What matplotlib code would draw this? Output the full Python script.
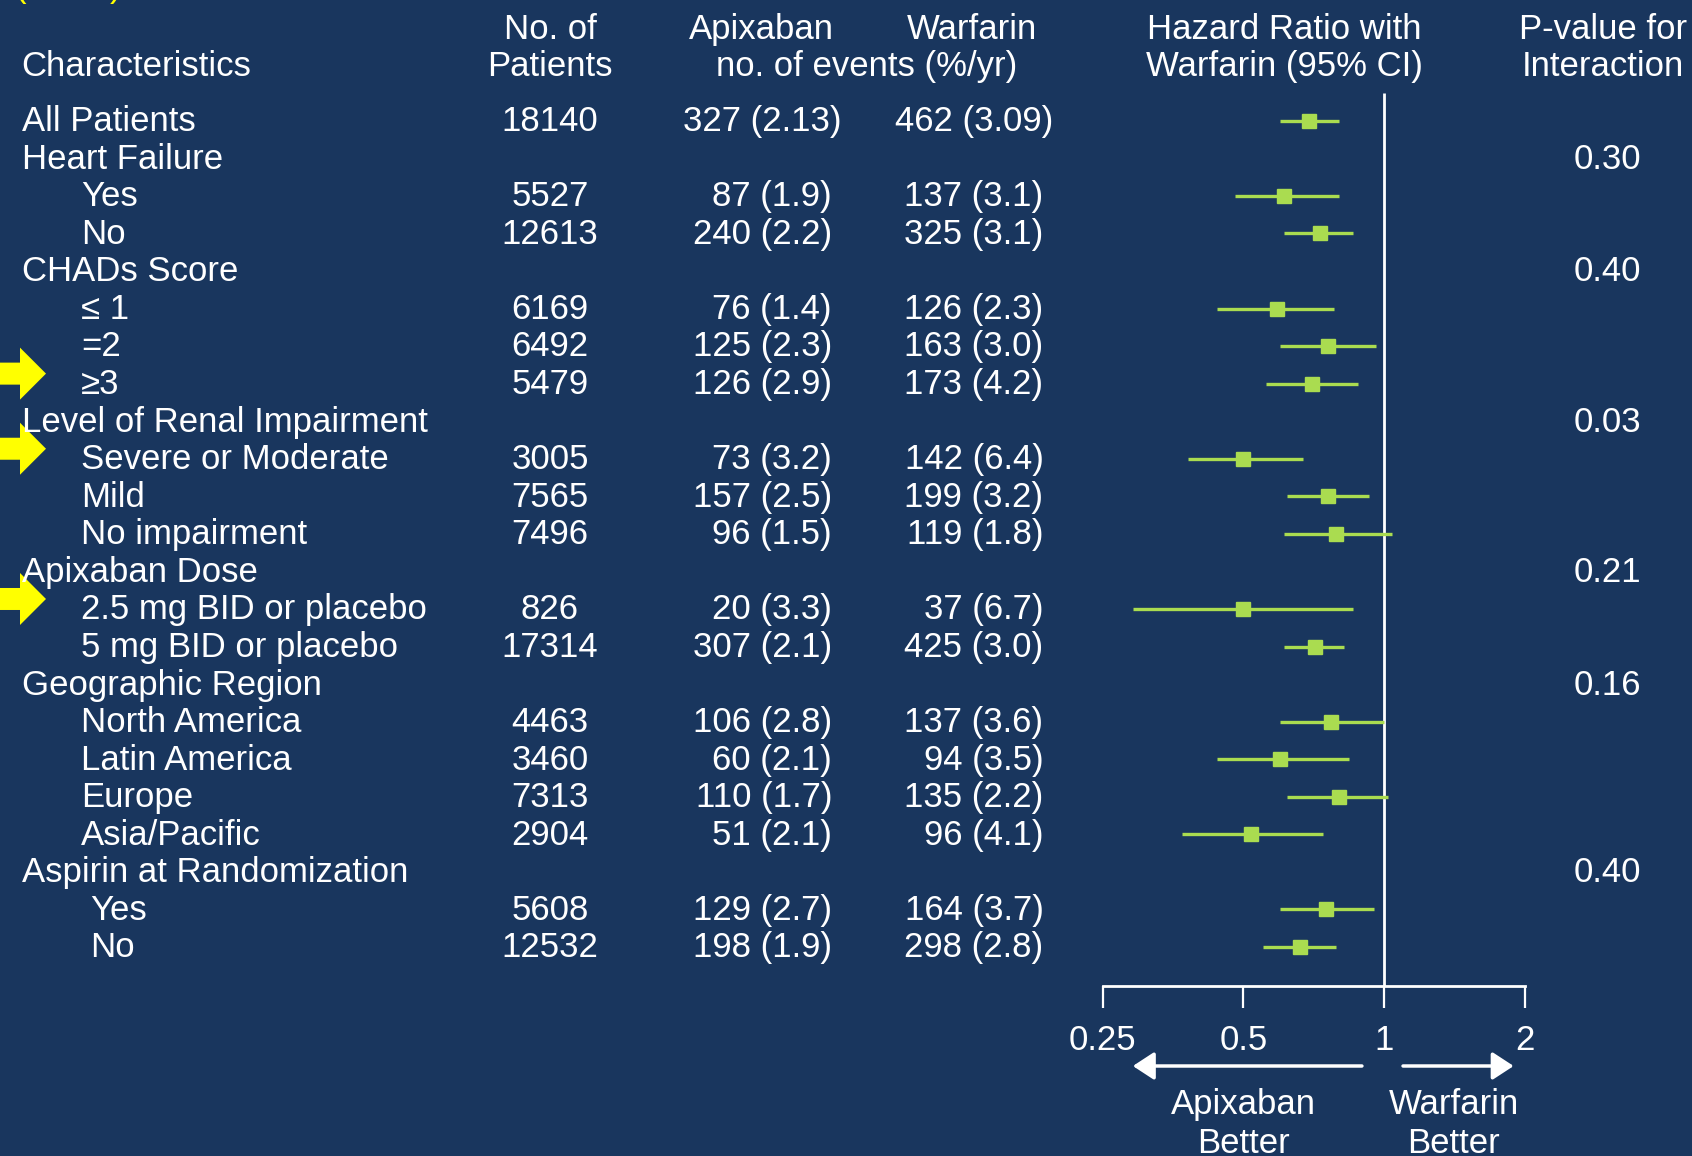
import numpy as np
import matplotlib.pyplot as plt

plt.rcParams['font.family'] = ['Liberation Sans', 'DejaVu Sans']

BG = '#19365e'
VERT = '#aadc50'
JAUNE = '#ffff00'
FS = 25

# ── Données ──────────────────────────────────────────────────────────────────
labels = ['All Patients', 'Heart Failure', 'Yes', 'No', 'CHADs Score',
          '≤ 1', '=2', '≥3', 'Level of Renal Impairment',
          'Severe or Moderate', 'Mild', 'No impairment', 'Apixaban Dose',
          '2.5 mg BID or placebo', '5 mg BID or placebo', 'Geographic Region',
          'North America', 'Latin America', 'Europe', 'Asia/Pacific',
          'Aspirin at Randomization', 'Yes', 'No']
niveau = [0, 0, 1, 1, 0, 1, 1, 1, 0, 1, 1, 1, 0, 1, 1, 0, 1, 1, 1, 1, 0, 2, 2]
patients = ['18140', '', '5527', '12613', '', '6169', '6492', '5479', '',
            '3005', '7565', '7496', '', '826', '17314', '', '4463', '3460',
            '7313', '2904', '', '5608', '12532']
apixaban = ['327 (2.13)', '', '87 (1.9)', '240 (2.2)', '', '76 (1.4)',
            '125 (2.3)', '126 (2.9)', '', '73 (3.2)', '157 (2.5)', '96 (1.5)',
            '', '20 (3.3)', '307 (2.1)', '', '106 (2.8)', '60 (2.1)',
            '110 (1.7)', '51 (2.1)', '', '129 (2.7)', '198 (1.9)']
warfarin = ['462 (3.09)', '', '137 (3.1)', '325 (3.1)', '', '126 (2.3)',
            '163 (3.0)', '173 (4.2)', '', '142 (6.4)', '199 (3.2)', '119 (1.8)',
            '', '37 (6.7)', '425 (3.0)', '', '137 (3.6)', '94 (3.5)',
            '135 (2.2)', '96 (4.1)', '', '164 (3.7)', '298 (2.8)']
p_inter = ['', '0.30', '', '', '0.40', '', '', '', '0.03', '', '', '', '0.21',
           '', '', '0.16', '', '', '', '', '0.40', '', '']

# Hazard ratios (NaN pour les lignes de titre)
hr = [0.69, np.nan, 0.61, 0.73, np.nan, 0.59, 0.76, 0.70, np.nan, 0.50, 0.76,
      0.79, np.nan, 0.50, 0.71, np.nan, 0.77, 0.60, 0.80, 0.52, np.nan, 0.75, 0.66]
ic_bas = [0.60, np.nan, 0.48, 0.61, np.nan, 0.44, 0.60, 0.56, np.nan, 0.38,
          0.62, 0.61, np.nan, 0.29, 0.61, np.nan, 0.60, 0.44, 0.62, 0.37,
          np.nan, 0.60, 0.55]
ic_haut = [0.80, np.nan, 0.80, 0.86, np.nan, 0.78, 0.96, 0.88, np.nan, 0.67,
           0.93, 1.04, np.nan, 0.86, 0.82, np.nan, 1.00, 0.84, 1.02, 0.74,
           np.nan, 0.95, 0.79]
fleches = [7, 9, 13]          # lignes signalées par une flèche jaune
ticks_hr = [0.25, 0.5, 1, 2]
tick_labels = ['0.25', '0.5', '1', '2']

# ── Mise en page (coordonnées en pixels) ─────────────────────────────────────
W, H = 1692, 1156
Y0, DY = 118.7, 37.56
ys = Y0 + DY * np.arange(len(labels))
INDENT = [21.6, 81, 90]
X_PAT, X_APIX, X_WARF, X_P = 550, 832, 1043.5, 1607
CHIFFRE = 0.556 * FS * 100 / 72   # largeur d'un chiffre en pixels

fig = plt.figure(figsize=(W / 100, H / 100), dpi=100, facecolor=BG)
ax = fig.add_axes([0, 0, 1, 1])
ax.set_xlim(0, W)
ax.set_ylim(H, 0)
ax.axis('off')
ax.set_facecolor(BG)

txt = dict(color='white', fontsize=FS, va='baseline')
off = 12.4   # demi-hauteur des majuscules


def texte(x, y, s, ha='left'):
    ax.text(x, y + off, s, ha=ha, **txt)


def decal(s):
    # les taux à deux décimales débordent d'un demi-chiffre à droite
    if '.' not in s:
        return 0
    return (len(s.split('.')[-1].rstrip(')')) - 1) * CHIFFRE / 2


# En-têtes
texte(21.6, 63.7, 'Characteristics')
texte(X_PAT, 27, 'No. of', 'center')
texte(X_PAT, 63.7, 'Patients', 'center')
texte(761, 27, 'Apixaban', 'center')
texte(972, 27, 'Warfarin', 'center')
texte(866.5, 63.7, 'no. of events (%/yr)', 'center')
texte(1284, 27, 'Hazard Ratio with', 'center')
texte(1284, 63.7, 'Warfarin (95% CI)', 'center')
texte(1603, 27, 'P-value for', 'center')
texte(1603, 63.7, 'Interaction', 'center')

# Parenthèses jaunes tronquées en haut
ax.text(15, -2.5, '(', color=JAUNE, fontsize=FS, va='baseline', ha='left')
ax.text(121, -2.5, ')', color=JAUNE, fontsize=FS, va='baseline', ha='right')

# Tableau
for i, y in enumerate(ys):
    texte(INDENT[niveau[i]], y, labels[i])
    texte(X_PAT, y, patients[i], 'center')
    texte(X_APIX + decal(apixaban[i]), y, apixaban[i], 'right')
    texte(X_WARF + decal(warfarin[i]), y, warfarin[i], 'right')
    texte(X_P, y, p_inter[i], 'center')

# Flèches jaunes
for i in fleches:
    yc = ys[i] - 8
    ax.add_patch(plt.Polygon([(0, yc - 11), (20, yc - 11), (20, yc - 26),
                              (46, yc), (20, yc + 26), (20, yc + 11),
                              (0, yc + 11)], closed=True, color=JAUNE, lw=0))

# ── Forest plot ──────────────────────────────────────────────────────────────
x_g, x_d, y_axe = 1102.8, 1524.7, 986.3
axf = fig.add_axes([x_g / W, (H - y_axe) / H, (x_d - x_g) / W, y_axe / H])
axf.set_facecolor('none')
axf.set_xscale('log', base=2)
axf.set_xlim(0.25, 2)
axf.set_ylim(y_axe, 0)

hr_a = np.array(hr)
ok = ~np.isnan(hr_a)
axf.hlines(ys[ok] + 2, np.array(ic_bas)[ok], np.array(ic_haut)[ok],
           color=VERT, lw=2.4, zorder=3)
axf.plot(hr_a[ok], ys[ok] + 2, 's', color=VERT, ms=10, mec=VERT, zorder=4)
axf.vlines(1, 92.8, y_axe, color='white', lw=2, zorder=2)

for s in ['top', 'left', 'right']:
    axf.spines[s].set_visible(False)
axf.spines['bottom'].set_color('white')
axf.spines['bottom'].set_linewidth(2)
axf.set_yticks([])
axf.set_xticks(ticks_hr)
axf.set_xticklabels(tick_labels)
axf.minorticks_off()
axf.tick_params(axis='x', colors='white', labelsize=FS, length=16, width=1.6,
                direction='out', pad=11)

# Flèches et libellés sous l'axe
fl = dict(arrowstyle='-|>,head_length=1.3,head_width=0.85', color='white', lw=2.5)
axf.annotate('', xy=(0.286, 1066), xytext=(0.909, 1066), arrowprops=fl,
             annotation_clip=False)
axf.annotate('', xy=(1.92, 1066), xytext=(1.083, 1066), arrowprops=fl,
             annotation_clip=False)
axf.text(0.5, 1102 + off, 'Apixaban', ha='center', clip_on=False, **txt)
axf.text(0.5, 1141 + off, 'Better', ha='center', clip_on=False, **txt)
axf.text(1.41, 1102 + off, 'Warfarin', ha='center', clip_on=False, **txt)
axf.text(1.41, 1141 + off, 'Better', ha='center', clip_on=False, **txt)

plt.savefig('out.png', dpi=100, facecolor=BG)
